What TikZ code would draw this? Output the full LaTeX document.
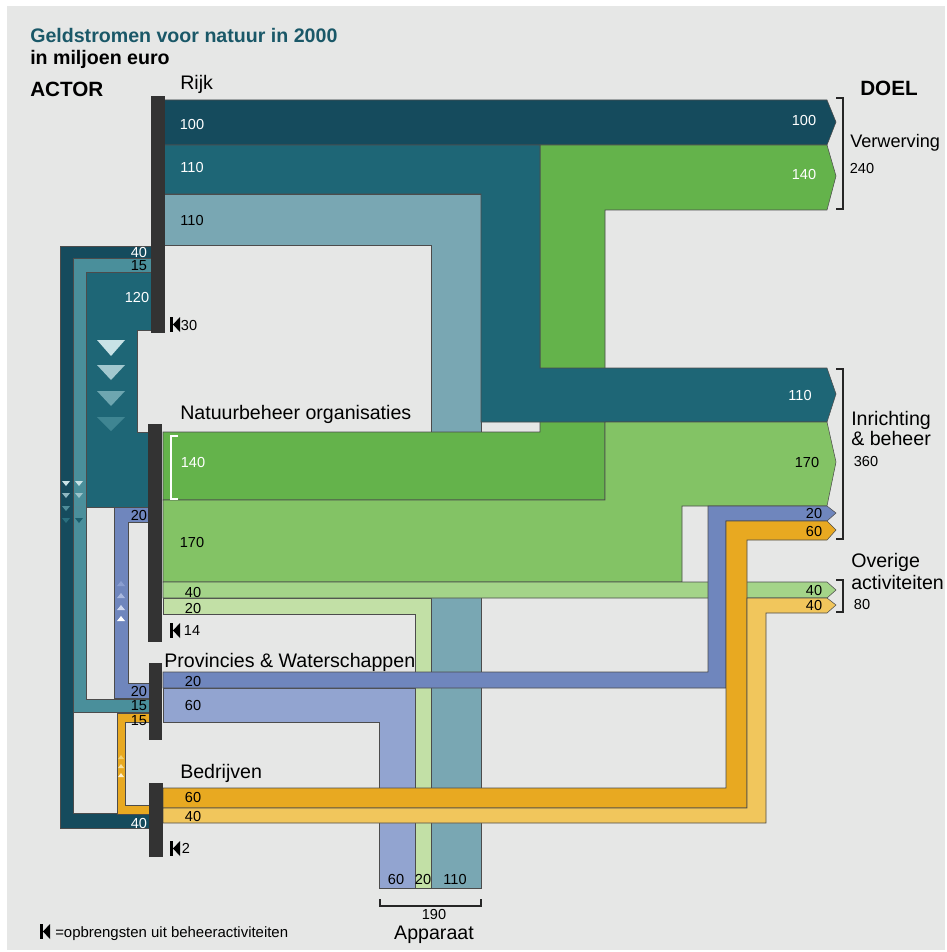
\documentclass[tikz,border=0pt]{standalone}
\usepackage{fontspec}
\setmainfont{Liberation Sans}
\usepackage{xcolor}
\usepackage{tikz}

\definecolor{bggray}{HTML}{E6E7E6}
\definecolor{titleteal}{HTML}{1A5868}
\definecolor{darkteal}{HTML}{154B5D}
\definecolor{midteal}{HTML}{1E6676}
\definecolor{lightteal}{HTML}{79A7B3}
\definecolor{loopteal}{HTML}{4A8F9B}
\definecolor{greenA}{HTML}{64B34B}
\definecolor{greenB}{HTML}{83C365}
\definecolor{greenC}{HTML}{A4D489}
\definecolor{greenD}{HTML}{C2E0A6}
\definecolor{blueA}{HTML}{6F86BD}
\definecolor{blueB}{HTML}{92A4D0}
\definecolor{orangeA}{HTML}{E8A921}
\definecolor{yellowA}{HTML}{F1C65C}
\definecolor{barcol}{HTML}{333333}
\definecolor{triA}{HTML}{C8E2E6}
\definecolor{triB}{HTML}{A2C8CF}
\definecolor{triC}{HTML}{6EA6B0}
\definecolor{triD}{HTML}{3F8592}
\definecolor{triE}{HTML}{8FB8C1}
\definecolor{triF}{HTML}{4F8C99}
\definecolor{triG}{HTML}{2A6F7E}
\definecolor{triH}{HTML}{9CC3CA}
\definecolor{triI}{HTML}{1B5E6D}
\definecolor{triJ}{HTML}{8A9ED0}
\definecolor{triK}{HTML}{A9B8DE}
\definecolor{triL}{HTML}{D0D9EF}
\definecolor{triM}{HTML}{F3CF6E}
\definecolor{triN}{HTML}{F8DF9A}
\definecolor{triO}{HTML}{FFF0CC}

\begin{document}
\begin{tikzpicture}[x=0.75pt,y=0.75pt,yscale=-1,xscale=1,
  band/.style={draw=black!70, line width=0.4pt},
  num/.style={font=\fontsize{10.9}{12}\selectfont, inner sep=0pt},
  lbl/.style={font=\fontsize{14.7}{16}\selectfont, inner sep=0pt, anchor=base west},
  head/.style={font=\bfseries\fontsize{15.5}{17}\selectfont, inner sep=0pt, anchor=base west},
  brack/.style={draw=black!85, line width=1.4pt},
  revmark/.pic={\fill[black] (0,0) rectangle (3,-15); \fill[black] (3,-7.5) -- (10,0) -- (10,-15) -- cycle;}]
\useasboundingbox (0,0) rectangle (946,952);

%Shape: Background
\fill[white] (0,0) rectangle (946,952);
\fill[bggray] (7,6) rectangle (945,950);

%Shape: Rijk -> Apparaat 110
\draw[band, fill=lightteal] (163,194) -- (481,194) -- (481,888) -- (431,888) -- (431,245) -- (163,245) -- cycle;
%Shape: Natuurbeheer -> Apparaat 20
\draw[band, fill=greenD] (163,598) -- (431,598) -- (431,888) -- (415,888) -- (415,614) -- (163,614) -- cycle;
%Shape: Provincies -> Apparaat 60
\draw[band, fill=blueB] (163,688) -- (415,688) -- (415,888) -- (379,888) -- (379,722) -- (163,722) -- cycle;
%Shape: Rijk -> Verwerving 100
\draw[band, fill=darkteal] (163,100) -- (827,100) -- (836,122) -- (827,145) -- (163,145) -- cycle;
%Shape: Natuurbeheer -> Verwerving 140
\draw[band, fill=greenA] (163,432) -- (540,432) -- (540,145) -- (827,145) -- (836,176) -- (827,210) -- (605,210) -- (605,500) -- (163,500) -- cycle;
%Shape: Rijk -> Inrichting 110
\draw[band, fill=midteal] (163,145) -- (540,145) -- (540,368) -- (827,368) -- (836,394) -- (827,422) -- (481,422) -- (481,194) -- (163,194) -- cycle;
%Shape: Natuurbeheer -> Inrichting 170
\draw[band, fill=greenB] (163,500) -- (605,500) -- (605,422) -- (827,422) -- (836,462) -- (827,506) -- (682,506) -- (682,582) -- (163,582) -- cycle;
%Shape: Natuurbeheer -> Overige 40
\draw[band, fill=greenC] (163,582) -- (827,582) -- (836,590) -- (827,598) -- (163,598) -- cycle;
%Shape: Provincies -> Inrichting 20
\draw[band, fill=blueA] (163,672) -- (708,672) -- (708,506) -- (827,506) -- (836,513) -- (827,521) -- (726,521) -- (726,688) -- (163,688) -- cycle;
%Shape: Bedrijven -> Inrichting 60
\draw[band, fill=orangeA] (163,788) -- (726,788) -- (726,521) -- (827,521) -- (836,530) -- (827,540) -- (747,540) -- (747,808) -- (163,808) -- cycle;
%Shape: Bedrijven -> Overige 40
\draw[band, fill=yellowA] (163,808) -- (747,808) -- (747,598) -- (827,598) -- (836,605) -- (827,613) -- (766,613) -- (766,823) -- (163,823) -- cycle;

%Shape: Rijk -> Bedrijven 40
\draw[band, fill=darkteal] (151,246) -- (60,246) -- (60,828) -- (149,828) -- (149,813) -- (73,813) -- (73,258) -- (151,258) -- cycle;
%Shape: Rijk -> Provincies 15
\draw[band, fill=loopteal] (151,258) -- (73,258) -- (73,712) -- (149,712) -- (149,699) -- (86,699) -- (86,272) -- (151,272) -- cycle;
%Shape: Rijk -> Natuurbeheer 120
\draw[band, fill=midteal] (151,272) -- (86,272) -- (86,507) -- (149,507) -- (149,432) -- (137,432) -- (137,330) -- (151,330) -- cycle;
%Shape: Provincies -> Natuurbeheer 20
\draw[band, fill=blueA] (149,698) -- (114,698) -- (114,507) -- (149,507) -- (149,522) -- (128,522) -- (128,683) -- (149,683) -- cycle;
%Shape: Bedrijven -> Provincies 15
\draw[band, fill=orangeA] (149,814) -- (117,814) -- (117,713) -- (149,713) -- (149,722) -- (125,722) -- (125,805) -- (149,805) -- cycle;

%Shape: Direction triangles 120
\fill[triA] (97,340) -- (125,340) -- (111,356) -- cycle;
\fill[triB] (97,365) -- (125,365) -- (111,380) -- cycle;
\fill[triC] (97,391) -- (125,391) -- (111,406) -- cycle;
\fill[triD] (97,417) -- (125,417) -- (111,431) -- cycle;
%Shape: Direction triangles 40
\fill[triA] (62,481) -- (70,481) -- (66,486) -- cycle;
\fill[triE] (62,493) -- (70,493) -- (66,498) -- cycle;
\fill[triF] (62,506) -- (70,506) -- (66,511) -- cycle;
\fill[triG] (62,518) -- (70,518) -- (66,523) -- cycle;
%Shape: Direction triangles 15
\fill[triA] (75,481) -- (83,481) -- (79,486) -- cycle;
\fill[triH] (75,493) -- (83,493) -- (79,498) -- cycle;
\fill[triF] (75,506) -- (83,506) -- (79,511) -- cycle;
\fill[triI] (75,518) -- (83,518) -- (79,523) -- cycle;
%Shape: Direction triangles blue 20
\fill[triJ] (117,586) -- (125,586) -- (121,581) -- cycle;
\fill[triK] (117,598) -- (125,598) -- (121,593) -- cycle;
\fill[triL] (117,610) -- (125,610) -- (121,605) -- cycle;
\fill[white] (117,621) -- (125,621) -- (121,616) -- cycle;
%Shape: Direction triangles orange 15
\fill[triM] (118,759) -- (124,759) -- (121,755) -- cycle;
\fill[triN] (118,768) -- (124,768) -- (121,764) -- cycle;
\fill[triO] (118,777) -- (124,777) -- (121,773) -- cycle;

%Shape: Actor bars
\fill[barcol] (151,96) rectangle (165,333);
\fill[barcol] (148,424) rectangle (162,642);
\fill[barcol] (149,663) rectangle (162,740);
\fill[barcol] (149,783) rectangle (163,857);

%Straight Lines: white bracket 140
\draw[white, line width=1.4pt] (178,436) -- (171,436) -- (171,499) -- (178,499);
%Straight Lines: brackets
\draw[brack] (836,98) -- (843,98) -- (843,209) -- (836,209);
\draw[brack] (836,369) -- (843,369) -- (843,539) -- (836,539);
\draw[brack] (836,580) -- (843,580) -- (843,612) -- (836,612);
\draw[brack] (380,899) -- (380,906) -- (481,906) -- (481,899);

%Shape: revenue markers
\pic at (170,317) {revmark};
\pic at (170,623) {revmark};
\pic at (170,841) {revmark};
\pic at (40,924) {revmark};

% Text Node
\node[head, font=\bfseries\fontsize{14.7}{16}\selectfont, text=titleteal] (title) at (30,43) {Geldstromen voor natuur in 2000};
% Text Node
\node[head, font=\bfseries\fontsize{14.7}{16}\selectfont] (unit) at (30,65) {in miljoen euro};
% Text Node
\node[head] (actor) at (30,97) {ACTOR};
% Text Node
\node[head] (doel) at (860,96) {DOEL};
% Text Node
\node[lbl] (rijk) at (180,90) {Rijk};
% Text Node
\node[lbl] (natuur) at (180,419) {Natuurbeheer organisaties};
% Text Node
\node[lbl] (prov) at (164,667) {Provincies \& Waterschappen};
% Text Node
\node[lbl] (bedr) at (180,778) {Bedrijven};
% Text Node
\node[lbl, font=\fontsize{13.6}{15}\selectfont] (verw) at (850,148) {Verwerving};
% Text Node
\node[lbl] (inr) at (851,425) {Inrichting};
% Text Node
\node[lbl] (beh) at (851,445) {\& beheer};
% Text Node
\node[lbl] (ov) at (851,567) {Overige};
% Text Node
\node[lbl] (act) at (851,589) {activiteiten};
% Text Node
\node[lbl, anchor=base] (app) at (434,939) {Apparaat};
% Text Node
\node[num] (verwsum) at (862,168) {240};
% Text Node
\node[num] (inrsum) at (866,461) {360};
% Text Node
\node[num] (ovsum) at (862,604) {80};
% Text Node
\node[num] (appsum) at (434,914) {190};
% Text Node
\node[num, anchor=base west, font=\fontsize{11.2}{12}\selectfont] (legend) at (55,937) {=opbrengsten uit beheeractiviteiten};

% Text Node
\node[num] (rev30) at (189,325) {30};
% Text Node
\node[num] (rev14) at (192,630) {14};
% Text Node
\node[num] (rev2) at (186,848) {2};

% Text Node
\node[num, text=white] (r100) at (192,124) {100};
% Text Node
\node[num, text=white] (r110a) at (192,167) {110};
% Text Node
\node[num] (r110b) at (192,220) {110};
% Text Node
\node[num, text=white] (n140) at (193,462) {140};
% Text Node
\node[num] (n170) at (192,542) {170};
% Text Node
\node[num] (n40) at (193,592) {40};
% Text Node
\node[num] (n20) at (193,608) {20};
% Text Node
\node[num] (p20) at (193,681) {20};
% Text Node
\node[num] (p60) at (193,705) {60};
% Text Node
\node[num] (b60) at (193,797) {60};
% Text Node
\node[num] (b40) at (193,816) {40};

% Text Node
\node[num, text=white] (l40) at (139,252) {40};
% Text Node
\node[num] (l15) at (139,266) {15};
% Text Node
\node[num, text=white] (l120) at (137,297) {120};
% Text Node
\node[num] (l20n) at (139,515) {20};
% Text Node
\node[num] (l20p) at (139,691) {20};
% Text Node
\node[num] (l15p) at (139,706) {15};
% Text Node
\node[num] (l15b) at (139,721) {15};
% Text Node
\node[num, text=white] (l40b) at (139,823) {40};

% Text Node
\node[num, text=white] (e100) at (804,120) {100};
% Text Node
\node[num, text=white] (e140) at (804,174) {140};
% Text Node
\node[num, text=white] (e110) at (800,395) {110};
% Text Node
\node[num] (e170) at (807,462) {170};
% Text Node
\node[num] (e20) at (814,513) {20};
% Text Node
\node[num] (e60) at (814,531) {60};
% Text Node
\node[num] (e40a) at (814,590) {40};
% Text Node
\node[num] (e40b) at (814,605) {40};

% Text Node
\node[num] (a60) at (396,879) {60};
% Text Node
\node[num] (a20) at (423,879) {20};
% Text Node
\node[num] (a110) at (455,879) {110};

\end{tikzpicture}
\end{document}
